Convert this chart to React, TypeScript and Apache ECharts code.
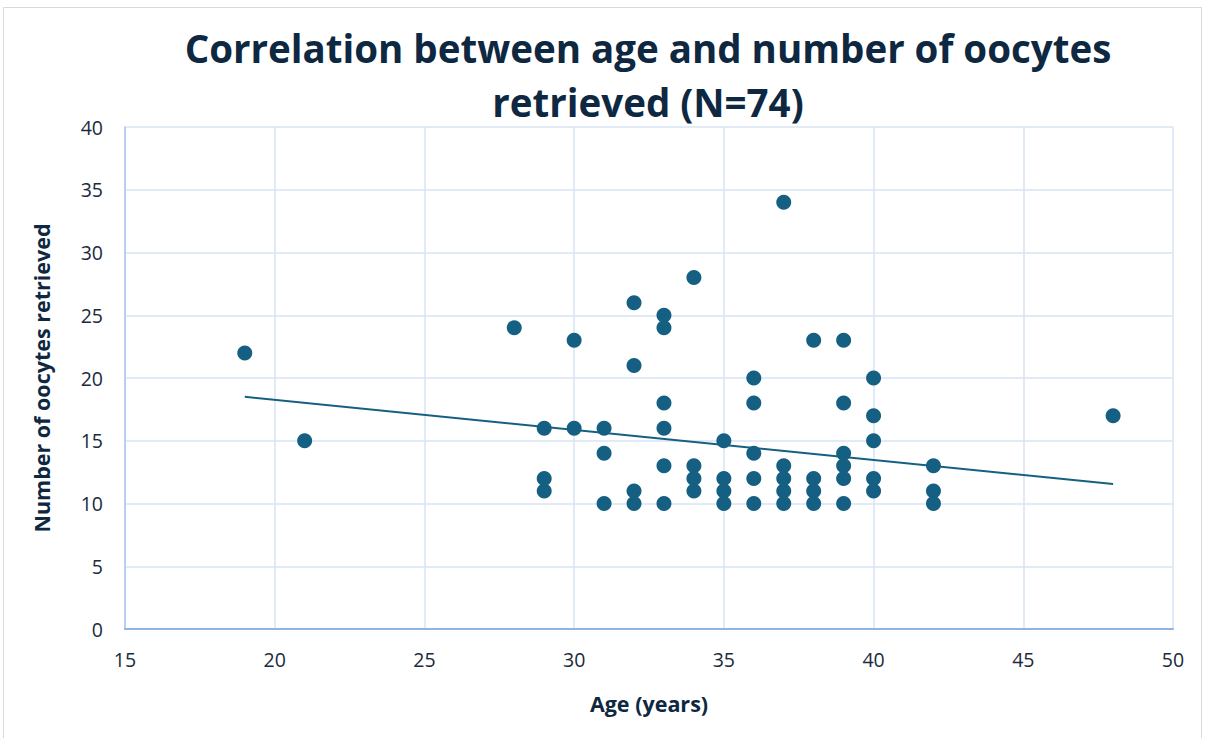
import React, { useEffect, useRef } from "react";
import * as echarts from "echarts";

const ages = [
  19, 21, 28, 29, 29, 29, 30, 30, 31, 31, 31, 32, 32, 32, 32, 33, 33, 33, 33, 33, 33,
  34, 34, 34, 34, 35, 35, 35, 35, 36, 36, 36, 36, 36, 37, 37, 37, 37, 37, 38, 38, 38, 38,
  39, 39, 39, 39, 39, 39, 40, 40, 40, 40, 40, 42, 42, 42, 48,
];
const oocytes = [
  22, 15, 24, 16, 12, 11, 23, 16, 16, 14, 10, 26, 21, 11, 10, 25, 24, 18, 16, 13, 10,
  28, 13, 12, 11, 15, 12, 11, 10, 20, 18, 14, 12, 10, 34, 13, 12, 11, 10, 23, 12, 11, 10,
  23, 18, 14, 13, 12, 10, 20, 17, 15, 12, 11, 13, 11, 10, 17,
];
const trendX = [19, 48];
const trendY = [18.5, 11.55];
const xTicks = [15, 20, 25, 30, 35, 40, 45, 50];
const yTicks = [0, 5, 10, 15, 20, 25, 30, 35, 40];

const titleLines = ["Correlation between age and number of oocytes", "retrieved (N=74)"];
const xName = "Age (years)";
const yName = "Number of oocytes retrieved";

export default function App() {
  const ref = useRef<HTMLDivElement>(null);
  useEffect(() => {
    if (!ref.current) return;
    const chart = echarts.init(ref.current, null, { renderer: "svg" });
    const navy = "#0E2841";
    const font = "'Open Sans', sans-serif";
    chart.setOption({
      animation: false,
      backgroundColor: "#fff",
      textStyle: { fontFamily: font },
      graphic: [
        {
          type: "rect",
          shape: { x: 3.5, y: 7.5, width: 1198, height: 740 },
          style: { fill: "none", stroke: "#D9D9D9", lineWidth: 1 },
          silent: true,
        },
        {
          type: "text",
          x: 648,
          y: 48,
          style: {
            text: titleLines[0],
            fill: navy,
            font: `bold 38.5px ${font}`,
            textAlign: "center",
            textVerticalAlign: "middle",
          },
        },
        {
          type: "text",
          x: 648,
          y: 102,
          style: {
            text: titleLines[1],
            fill: navy,
            font: `bold 38.5px ${font}`,
            textAlign: "center",
            textVerticalAlign: "middle",
          },
        },
      ],
      grid: { left: 125, right: 32, top: 127, bottom: 109, containLabel: false },
      xAxis: {
        type: "value",
        min: xTicks[0],
        max: xTicks[xTicks.length - 1],
        interval: 5,
        name: xName,
        nameLocation: "middle",
        nameGap: 63,
        nameTextStyle: { color: navy, fontSize: 21.5, fontWeight: "bold", fontFamily: font },
        axisLine: { show: true, lineStyle: { color: "#8DB4E2", width: 2 } },
        axisTick: { show: false },
        axisLabel: { color: "#1B2A3C", fontSize: 19.5, margin: 20, fontFamily: font },
        splitLine: { show: true, lineStyle: { color: "#D6E4F5", width: 1.5 } },
      },
      yAxis: {
        type: "value",
        min: yTicks[0],
        max: yTicks[yTicks.length - 1],
        interval: 5,
        name: yName,
        nameLocation: "middle",
        nameGap: 73,
        nameTextStyle: { color: navy, fontSize: 21.5, fontWeight: "bold", fontFamily: font },
        axisLine: { show: true, lineStyle: { color: "#A9C8EC", width: 1.5 } },
        axisTick: { show: false },
        axisLabel: { color: "#1B2A3C", fontSize: 19.5, margin: 22, fontFamily: font },
        splitLine: { show: true, lineStyle: { color: "#D6E4F5", width: 1.5 } },
      },
      series: [
        {
          type: "line",
          data: trendX.map((x, i) => [x, trendY[i]]),
          symbol: "none",
          lineStyle: { color: "#156082", width: 2 },
          z: 1,
          silent: true,
        },
        {
          type: "scatter",
          data: ages.map((a, i) => [a, oocytes[i]]),
          symbol: "circle",
          symbolSize: 15,
          itemStyle: { color: "#156082", opacity: 1 },
          z: 2,
        },
      ],
    });
    return () => chart.dispose();
  }, []);
  return (
    <div
      ref={ref}
      style={{ position: "fixed", left: 0, top: 0, width: 1205, height: 738 }}
    />
  );
}
